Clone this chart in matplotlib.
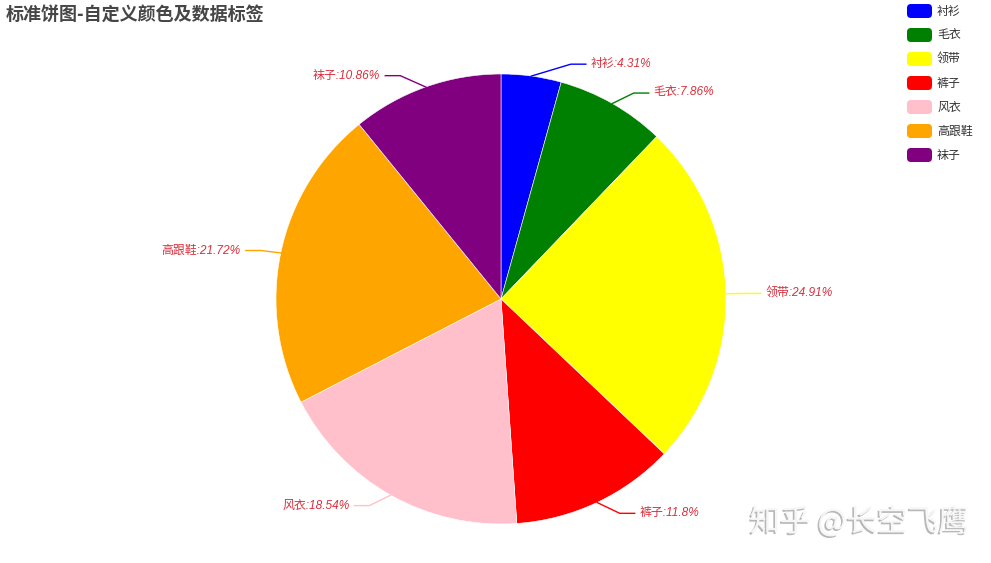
import matplotlib.pyplot as plt
import matplotlib.patheffects as pe
import numpy as np
from matplotlib.patches import FancyBboxPatch

plt.rcParams["font.family"] = ["Noto Sans CJK SC", "DejaVu Sans"]

# data
names = ["衬衫", "毛衣", "领带", "裤子", "风衣", "高跟鞋", "袜子"]
pcts = [4.31, 7.86, 24.91, 11.8, 18.54, 21.72, 10.86]
colors = ["blue", "green", "yellow", "red", "pink", "orange", "purple"]
title = "标准饼图-自定义颜色及数据标签"
watermark = "知乎 @长空飞鹰"

W, H = 991, 563
fig = plt.figure(figsize=(W / 100, H / 100), dpi=100)
ax = fig.add_axes([0, 0, 1, 1])

cx, cy, R = 501, H - 299, 225
wedges, _ = ax.pie(pcts, colors=colors, startangle=90, counterclock=False,
                   center=(cx, cy), radius=R, frame=True,
                   wedgeprops=dict(linewidth=0.4, edgecolor="white"))
ax.set_xlim(0, W)
ax.set_ylim(0, H)
ax.set_aspect("equal")
ax.axis("off")

# labels with two-segment leader lines (echarts-like layout)
label_color = "#d9303c"
cum = np.cumsum([0] + pcts)
for i, (name, p) in enumerate(zip(names, pcts)):
    mid = np.deg2rad((cum[i] + p / 2) / 100 * 360)
    dx, dy = np.sin(mid), np.cos(mid)
    x0, y0 = cx + R * dx, cy + R * dy
    off_y = (R + 12) * dy
    side = 1 if dx >= 0 else -1
    off_x = np.sqrt(max((R + 20) ** 2 - off_y ** 2, 0))
    x1, y1 = cx + side * off_x, cy + off_y
    x2 = x1 + side * 15
    ax.plot([x0, x1, x2], [y0, y1, y1], color=colors[i], lw=1, zorder=3)
    ax.text(x2 + side * 5, y1, f"{name}:{p}%", color=label_color,
            fontsize=8.6, style="italic",
            family=["Liberation Sans", "Noto Sans CJK SC"],
            ha="left" if side > 0 else "right", va="center")

# title
fig.text(6 / W, 1 - 14 / H, title, fontsize=13, fontweight="bold",
         color="#464646", ha="left", va="center")

# legend
for i, (name, c) in enumerate(zip(names, colors)):
    yc = H - (11 + 24 * i)
    box = FancyBboxPatch((907, yc - 7), 25, 14,
                         boxstyle="round,pad=0,rounding_size=4",
                         facecolor=c, edgecolor="none")
    ax.add_patch(box)
    ax.text(937, yc, name, fontsize=8.6, color="#333333",
            ha="left", va="center")

# watermark
ax.text(859, H - 522, watermark, fontsize=22, color="#f6f6f6",
        ha="center", va="center",
        path_effects=[pe.withSimplePatchShadow(offset=(-1.2, -1.2),
                                               shadow_rgbFace="#9a9a9a",
                                               alpha=0.7)])

fig.savefig("out.png", dpi=100, facecolor="white")
